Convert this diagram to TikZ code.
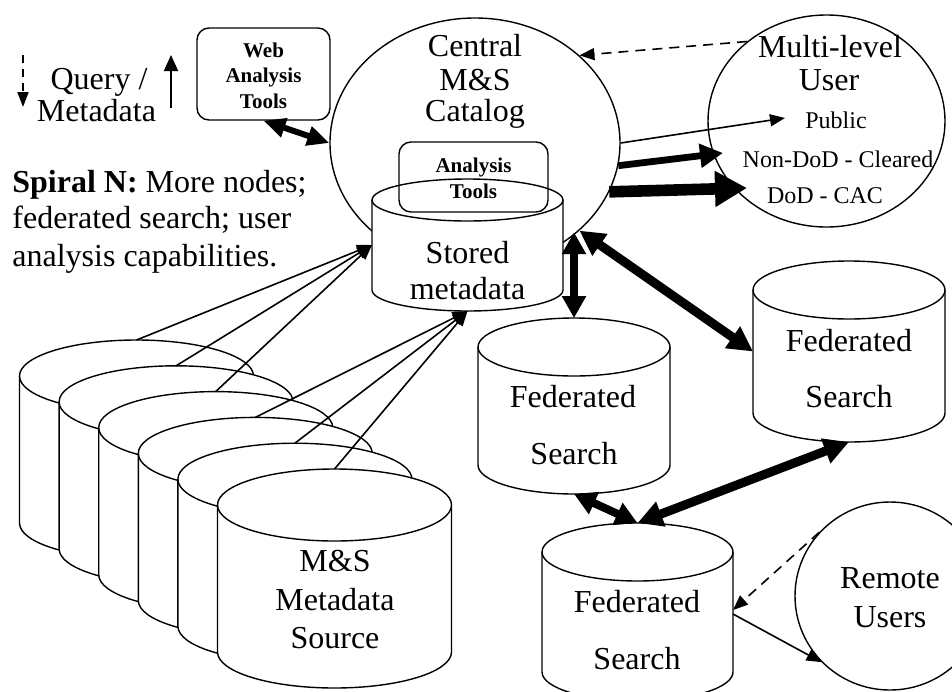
\documentclass[tikz,border=0pt]{standalone}
\usepackage{fontspec}
\setmainfont{Liberation Serif}
\usetikzlibrary{arrows.meta,calc,shapes.geometric}

\tikzset{
  shapeline/.style={line width=0.7pt},
  bigtxt/.style={inner sep=0, anchor=base, font=\fontsize{16}{19}\selectfont},
  smalltxt/.style={inner sep=0, anchor=base, font=\fontsize{12}{14}\selectfont},
  boldtxt/.style={inner sep=0, anchor=base, font=\fontsize{10.5}{12}\selectfont\bfseries},
  roundbox/.style={draw, shapeline, rounded corners=6pt, inner sep=0},
  ovalshape/.style={ellipse, draw, shapeline, fill=white, inner sep=0},
  thinarrow/.style={line width=0.8pt, -{Triangle[length=7.5pt,width=6pt]}},
  dasharrow/.style={thinarrow, dash pattern=on 5pt off 3.5pt},
  webarrow/.style={line width=3pt, {Triangle[length=11pt,width=9.5pt]}-{Triangle[length=11pt,width=9.5pt]}},
  midarrow/.style={line width=3.4pt, -{Triangle[length=11.5pt,width=11.5pt]}},
  fatarrow/.style={line width=5.8pt, -{Triangle[length=16pt,width=17pt]}},
  dblarrow/.style={line width=4pt, {Triangle[length=11pt,width=11.5pt]}-{Triangle[length=11pt,width=11.5pt]}},
  dblfatarrow/.style={line width=4.5pt, {Triangle[length=12.5pt,width=12.5pt]}-{Triangle[length=12.5pt,width=12.5pt]}},
}

% cylinder: name, cx, ytop, ybottom, rx, ry (pixel units)
\newcommand\cylshape[6]{%
  \filldraw[shapeline, fill=white] (#2-#5,#3) -- (#2-#5,#4)
    arc[start angle=180, end angle=360, x radius=#5*0.5pt, y radius=#6*0.5pt]
    -- (#2+#5,#3)
    arc[start angle=0, end angle=180, x radius=#5*0.5pt, y radius=#6*0.5pt] -- cycle;
  \draw[shapeline] (#2-#5,#3)
    arc[start angle=180, end angle=360, x radius=#5*0.5pt, y radius=#6*0.5pt];
  \node[inner sep=0, outer sep=0, minimum width=#5*1pt, minimum height=(#4-#3+2*#6)*0.5pt] (#1) at (#2,{(#3+#4)/2}) {};
}

\begin{document}
\begin{tikzpicture}[x=0.5pt,y=-0.5pt]
\useasboundingbox (0,0) rectangle (952,691);
\fill[white] (0,0) rectangle (952,691);
\clip (0,0) rectangle (952,691);

% ---------- Central catalog ----------
\node[ovalshape, minimum width=145pt, minimum height=125pt] (central) at (475,143) {};
\cylshape{stored}{467.5}{200}{290}{95.5}{21}
\node[roundbox, minimum width=74.5pt, minimum height=35pt] (antools) at (473.5,177) {};

% ---------- Web analysis tools ----------
\node[roundbox, fill=white, minimum width=66.5pt, minimum height=46pt] (webtools) at (263.5,74) {};

% ---------- Multi-level user ----------
\node[ovalshape, minimum width=118.5pt, minimum height=106pt] (multi) at (826.5,121) {};

% ---------- Metadata sources ----------
\foreach \i in {1,...,6}{
  \pgfmathsetmacro\cx{136.5+39.6*(\i-1)}
  \pgfmathsetmacro\ty{376+25.8*(\i-1)}
  \pgfmathsetmacro\by{\ty+147}
  \cylshape{src\i}{\cx}{\ty}{\by}{117}{36}
}

% ---------- Federated search ----------
\cylshape{fedA}{574}{347}{465}{96}{29}
\cylshape{fedB}{849}{290}{413}{96}{29}
\cylshape{fedC}{637.5}{552}{672}{95.5}{29}

% ---------- Remote users ----------
\node[ovalshape, minimum width=95pt, minimum height=94pt] (remote) at (890,596) {};

% ---------- Texts ----------
\node[bigtxt] (tq1) at (99,89) {Query /};
\node[bigtxt] (tq2) at (96.5,121) {Metadata};

\node[boldtxt] (tw1) at (263.5,57) {Web};
\node[boldtxt] (tw2) at (263.5,82) {Analysis};
\node[boldtxt] (tw3) at (263.5,108) {Tools};

\node[bigtxt] (tc1) at (475,56) {Central};
\node[bigtxt] (tc2) at (475,90) {M\&S};
\node[bigtxt] (tc3) at (475,121) {Catalog};

\node[boldtxt] (ta1) at (473.5,172) {Analysis};
\node[boldtxt] (ta2) at (473.5,198) {Tools};

\node[bigtxt] (ts1) at (467.5,263) {Stored};
\node[bigtxt] (ts2) at (467.5,299) {metadata};

\node[bigtxt] (tm1) at (830,57) {Multi-level};
\node[bigtxt] (tm2) at (829,90) {User};
\node[smalltxt] (public) at (836,128) {Public};
\node[smalltxt] (nondod) at (838,167) {Non-DoD - Cleared};
\node[smalltxt] (dodcac) at (825,203) {DoD - CAC};

\node[bigtxt, anchor=base west] (sp1) at (12,192) {\textbf{Spiral N:} More nodes;};
\node[bigtxt, anchor=base west] (sp2) at (12,228) {federated search; user};
\node[bigtxt, anchor=base west] (sp3) at (12,266) {analysis capabilities.};

\node[bigtxt] (tsrc1) at (335,571) {M\&S};
\node[bigtxt] (tsrc2) at (335,610) {Metadata};
\node[bigtxt] (tsrc3) at (335,648) {Source};

\node[bigtxt] (tfa1) at (573,407) {Federated};
\node[bigtxt] (tfa2) at (574,464) {Search};
\node[bigtxt] (tfb1) at (849,351) {Federated};
\node[bigtxt] (tfb2) at (849,407) {Search};
\node[bigtxt] (tfc1) at (637,612) {Federated};
\node[bigtxt] (tfc2) at (637,669) {Search};

\node[bigtxt] (tr1) at (890,588) {Remote};
\node[bigtxt] (tr2) at (890,627) {Users};

% ---------- Legend arrows ----------
\coordinate (qd1) at (23,55);
\coordinate (qd2) at (23,107);
\coordinate (mu1) at (171,108);
\coordinate (mu2) at (171,55);
\draw[line width=1pt, dash pattern=on 4pt off 3pt, -{Triangle[length=7.5pt,width=5.5pt]}] (qd1) -- (qd2);
\draw[line width=1pt, -{Triangle[length=8pt,width=7pt]}] (mu1) -- (mu2);

% ---------- Connectors ----------
\draw[webarrow] (webtools.south) -- (central.west);

\coordinate (pubtip) at (785,118);
\coordinate (ndtip) at (723,153);
\coordinate (dodtip) at (747,188);
\draw[thinarrow] (central.east) -- (pubtip);
\draw[midarrow] (central.-9.6) -- (ndtip);
\draw[fatarrow] (central.-20) -- (dodtip);
\draw[dasharrow] (multi.135.5) -- (central.40.5);

\foreach \i in {1,2,3}{ \draw[thinarrow] (src\i.north) -- (stored.west); }
\foreach \i in {4,5,6}{ \draw[thinarrow] (src\i.north) -- (stored.south); }

\draw[dblarrow] (fedA.north |- central.-41.7) -- (fedA.north);
\draw[dblfatarrow] (central.-40.6) -- (fedB.west);
\draw[dblarrow] (fedA.south) -- (fedC.north);
\draw[dblfatarrow] (fedB.south) -- (fedC.north);

\draw[dasharrow] (remote.138.4) -- ($(fedC.east)+(0,-2)$);
\draw[thinarrow] ($(fedC.east)+(0,2)$) -- (remote.224.6);
\end{tikzpicture}
\end{document}
